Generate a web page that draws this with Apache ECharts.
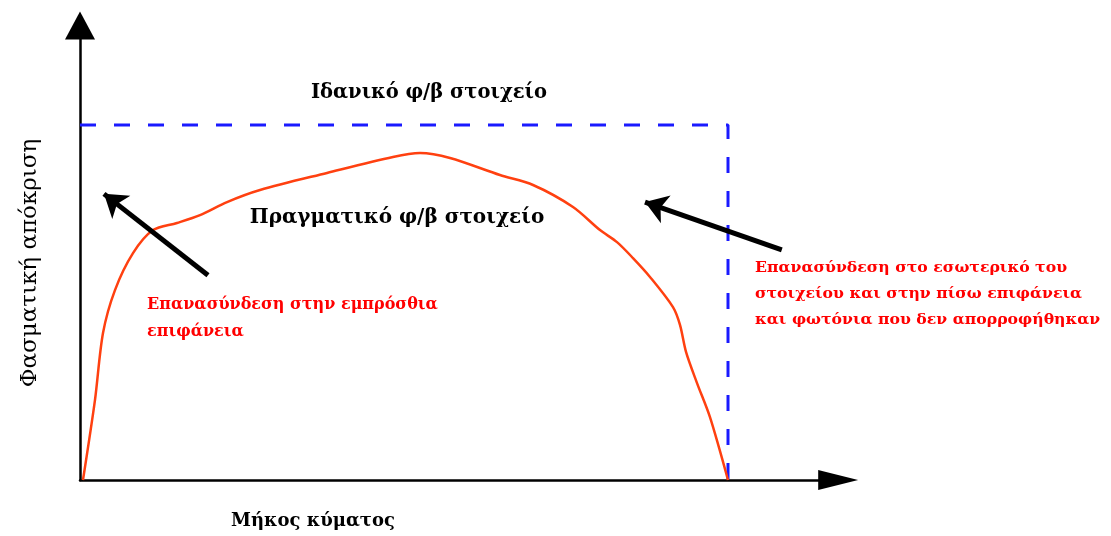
<!DOCTYPE html>
<html>
<head>
<meta charset="utf-8">
<script src="https://cdn.jsdelivr.net/npm/echarts@6/dist/echarts.min.js"></script>
<style>
html,body{margin:0;padding:0;background:#fff;}
#chart{width:1111px;height:536px;}
</style>
</head>
<body>
<div id="chart"></div>
<script>
// Wavelength (arbitrary units, ideal cutoff at 100) and normalised spectral response
const realX = [0.46, 2.31, 3.55, 5.40, 8.18, 11.27, 14.97, 18.52, 22.69, 27.78, 38.12, 48.30, 52.47, 57.10, 64.81, 69.91, 76.08, 80.25, 82.87, 85.34, 87.96, 91.51, 92.59, 93.52, 95.22, 97.22, 100];
const realY = [0, 0.225, 0.414, 0.535, 0.639, 0.704, 0.724, 0.746, 0.783, 0.817, 0.865, 0.910, 0.921, 0.907, 0.859, 0.831, 0.769, 0.704, 0.670, 0.625, 0.572, 0.487, 0.437, 0.361, 0.273, 0.177, 0];
const idealX = [0, 100, 100];
const idealY = [1, 1, 0];
// Annotation arrows: [tailX, tailY, headX, headY]
const arrowFront = [19.75, 0.577, 3.70, 0.806];
const arrowBack = [108.3, 0.648, 87.19, 0.783];

const xName = 'Μήκος κύματος';
const yName = 'Φασματική απόκριση';
const idealLabel = 'Ιδανικό φ/β στοιχείο';
const realLabel = 'Πραγματικό φ/β στοιχείο';
const frontLines = ['Επανασύνδεση στην εμπρόσθια', 'επιφάνεια'];
const backLines = ['Επανασύνδεση στο εσωτερικό του', 'στοιχείου και στην πίσω επιφάνεια', 'και φωτόνια που δεν απορροφήθηκαν'];

const SERIF = '"DejaVu Serif", "Liberation Serif", serif';
const chart = echarts.init(document.getElementById('chart'));

function txt(text, x, y, opts) {
  return Object.assign({
    type: 'text', x: x, y: y, silent: true,
    style: Object.assign({
      text: text, fontFamily: SERIF, fontSize: 18, fontWeight: 'bold',
      fill: '#000', textAlign: 'center', textVerticalAlign: 'middle'
    }, opts.style || {})
  }, opts.el || {});
}

const graphics = [
  txt(idealLabel, 429, 93, {style: {fontSize: 19.5}}),
  txt(realLabel, 397, 218, {style: {fontSize: 20}}),
  txt(xName, 313, 521, {}),
  txt(yName, 30, 263, {style: {fontWeight: 'normal', fontSize: 23}, el: {rotation: Math.PI / 2}})
];
frontLines.forEach((t, i) => graphics.push(txt(t, 147, 305 + i * 27, {style: {fill: '#ff0000', fontSize: 16, textAlign: 'left'}})));
backLines.forEach((t, i) => graphics.push(txt(t, 755, 268 + i * 26, {style: {fill: '#ff0000', fontSize: 15.7, textAlign: 'left'}})));

chart.setOption({
  animation: false,
  backgroundColor: '#fff',
  grid: {left: 80, right: 272.84, top: 25.6, bottom: 56},
  xAxis: {
    type: 'value', min: 0, max: 117,
    axisLine: {show: true, symbol: ['none', 'triangle'], symbolSize: [20, 40], lineStyle: {color: '#000', width: 2.5}},
    axisTick: {show: false}, axisLabel: {show: false}, splitLine: {show: false}
  },
  yAxis: {
    type: 'value', min: 0, max: 1.28,
    axisLine: {show: true, symbol: ['none', 'triangle'], symbolSize: [30, 28], lineStyle: {color: '#000', width: 2.5}},
    axisTick: {show: false}, axisLabel: {show: false}, splitLine: {show: false}
  },
  series: [
    {
      type: 'line', name: 'ideal',
      data: idealX.map((x, i) => [x, idealY[i]]),
      showSymbol: false, silent: true,
      lineStyle: {color: '#1a1aff', width: 3, type: [16, 18]},
      z: 3
    },
    {
      type: 'line', name: 'real',
      data: realX.map((x, i) => [x, realY[i]]),
      showSymbol: false, silent: true, smooth: 0.3,
      lineStyle: {color: '#ff4010', width: 2.5},
      z: 4
    },
    {
      type: 'line', name: 'arrows', data: [], silent: true,
      markLine: {
        silent: true, animation: false,
        symbol: ['none', 'arrow'], symbolSize: [22, 22],
        label: {show: false},
        lineStyle: {color: '#000', width: 5, type: 'solid'},
        emphasis: {disabled: true},
        data: [
          [{coord: [arrowFront[0], arrowFront[1]]}, {coord: [arrowFront[2], arrowFront[3]]}],
          [{coord: [arrowBack[0], arrowBack[1]]}, {coord: [arrowBack[2], arrowBack[3]]}]
        ]
      },
      z: 5
    }
  ],
  graphic: graphics
});
</script>
</body>
</html>
